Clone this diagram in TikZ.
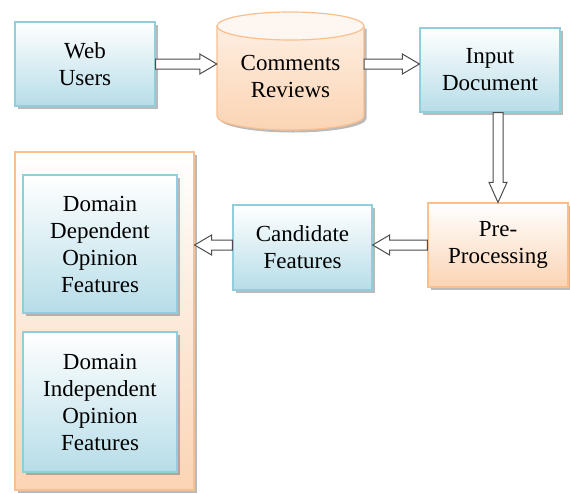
\documentclass[tikz,border=0pt]{standalone}
\usepackage{fontspec}
\setmainfont{Liberation Serif}
\usetikzlibrary{calc,shadows}
\definecolor{blueB}{HTML}{B7DDE8}
\definecolor{blueD}{HTML}{92CDDC}
\definecolor{orB}{HTML}{FBD4B4}
\definecolor{orD}{HTML}{F9BF8F}
\tikzset{
  shadowed/.style={drop shadow={shadow xshift=2.5pt, shadow yshift=-2.5pt, opacity=0.45, fill=black!60}},
  base/.style={draw, line width=1.2pt, align=center, font=\fontsize{23}{27}\selectfont, inner sep=0pt, shadowed},
  bluebox/.style={base, draw=blueD, top color=white, bottom color=blueB},
  orbox/.style={base, draw=orD, top color=white, bottom color=orB},
  barrow/.style={draw=black!70, line width=1pt, fill=white},
}
\newcommand\hblock[2]{\draw[barrow] let \p1=(#1), \p2=(#2), \n1={sign(\x2-\x1)} in
  (\x1,\y1+5) -- (\x2-\n1*17,\y1+5) -- (\x2-\n1*17,\y1+10) -- (\x2,\y1) --
  (\x2-\n1*17,\y1-10) -- (\x2-\n1*17,\y1-5) -- (\x1,\y1-5) -- cycle;}
\newcommand\vblock[2]{\draw[barrow] let \p1=(#1), \p2=(#2), \n1={sign(\y2-\y1)} in
  (\x1+5,\y1) -- (\x1+5,\y2-\n1*20) -- (\x1+9,\y2-\n1*20) -- (\x1,\y2) --
  (\x1-9,\y2-\n1*20) -- (\x1-5,\y2-\n1*20) -- (\x1-5,\y1) -- cycle;}
\begin{document}
\begin{tikzpicture}[x=1pt,y=-1pt]
\useasboundingbox (0,0) rectangle (570,493);
% Web users
\node[bluebox, minimum width=140pt, minimum height=84pt] (web) at (85,64) {Web\\Users};
% Cylinder
\fill[shadowed, top color=orB!40, bottom color=orB] (217,26) -- (217,116)
  arc[start angle=180, end angle=0, x radius=73.5, y radius=14] -- (364,26) -- cycle;
\draw[orD, line width=1.2pt] (217,26) -- (217,116)
  arc[start angle=180, end angle=0, x radius=73.5, y radius=14] -- (364,26);
\draw[orD, line width=1.2pt, fill=orB!20] (290.5,26) ellipse[x radius=73.5, y radius=14];
\node[font=\fontsize{23}{27}\selectfont, align=center, inner sep=0pt, minimum width=147pt, minimum height=104pt] (cyl) at (290.5,76) {Comments\\Reviews};
% Input document
\node[bluebox, minimum width=140pt, minimum height=84pt] (inp) at (490,70) {Input\\Document};
% Pre-processing
\node[orbox, minimum width=140pt, minimum height=84pt] (pre) at (498,245) {Pre-\\Processing};
% Candidate features
\node[bluebox, minimum width=139pt, minimum height=85pt] (cand) at (302.5,247.5) {Candidate\\Features};
% Outer container
\node[orbox, minimum width=179pt, minimum height=338pt] (outer) at (104.5,321) {};
\node[bluebox, minimum width=154pt, minimum height=138pt] (dd) at (100,244) {Domain\\Dependent\\Opinion\\Features};
\node[bluebox, minimum width=154pt, minimum height=140pt] (di) at (100,402) {Domain\\Independent\\Opinion\\Features};
% Arrows
\hblock{web.east}{cyl.west |- web.east}
\hblock{cyl.east |- web.east}{inp.west |- web.east}
\vblock{inp.south -| pre.north}{pre.north}
\hblock{pre.west}{cand.east |- pre.west}
\hblock{cand.west |- pre.west}{outer.east |- pre.west}
\end{tikzpicture}
\end{document}
